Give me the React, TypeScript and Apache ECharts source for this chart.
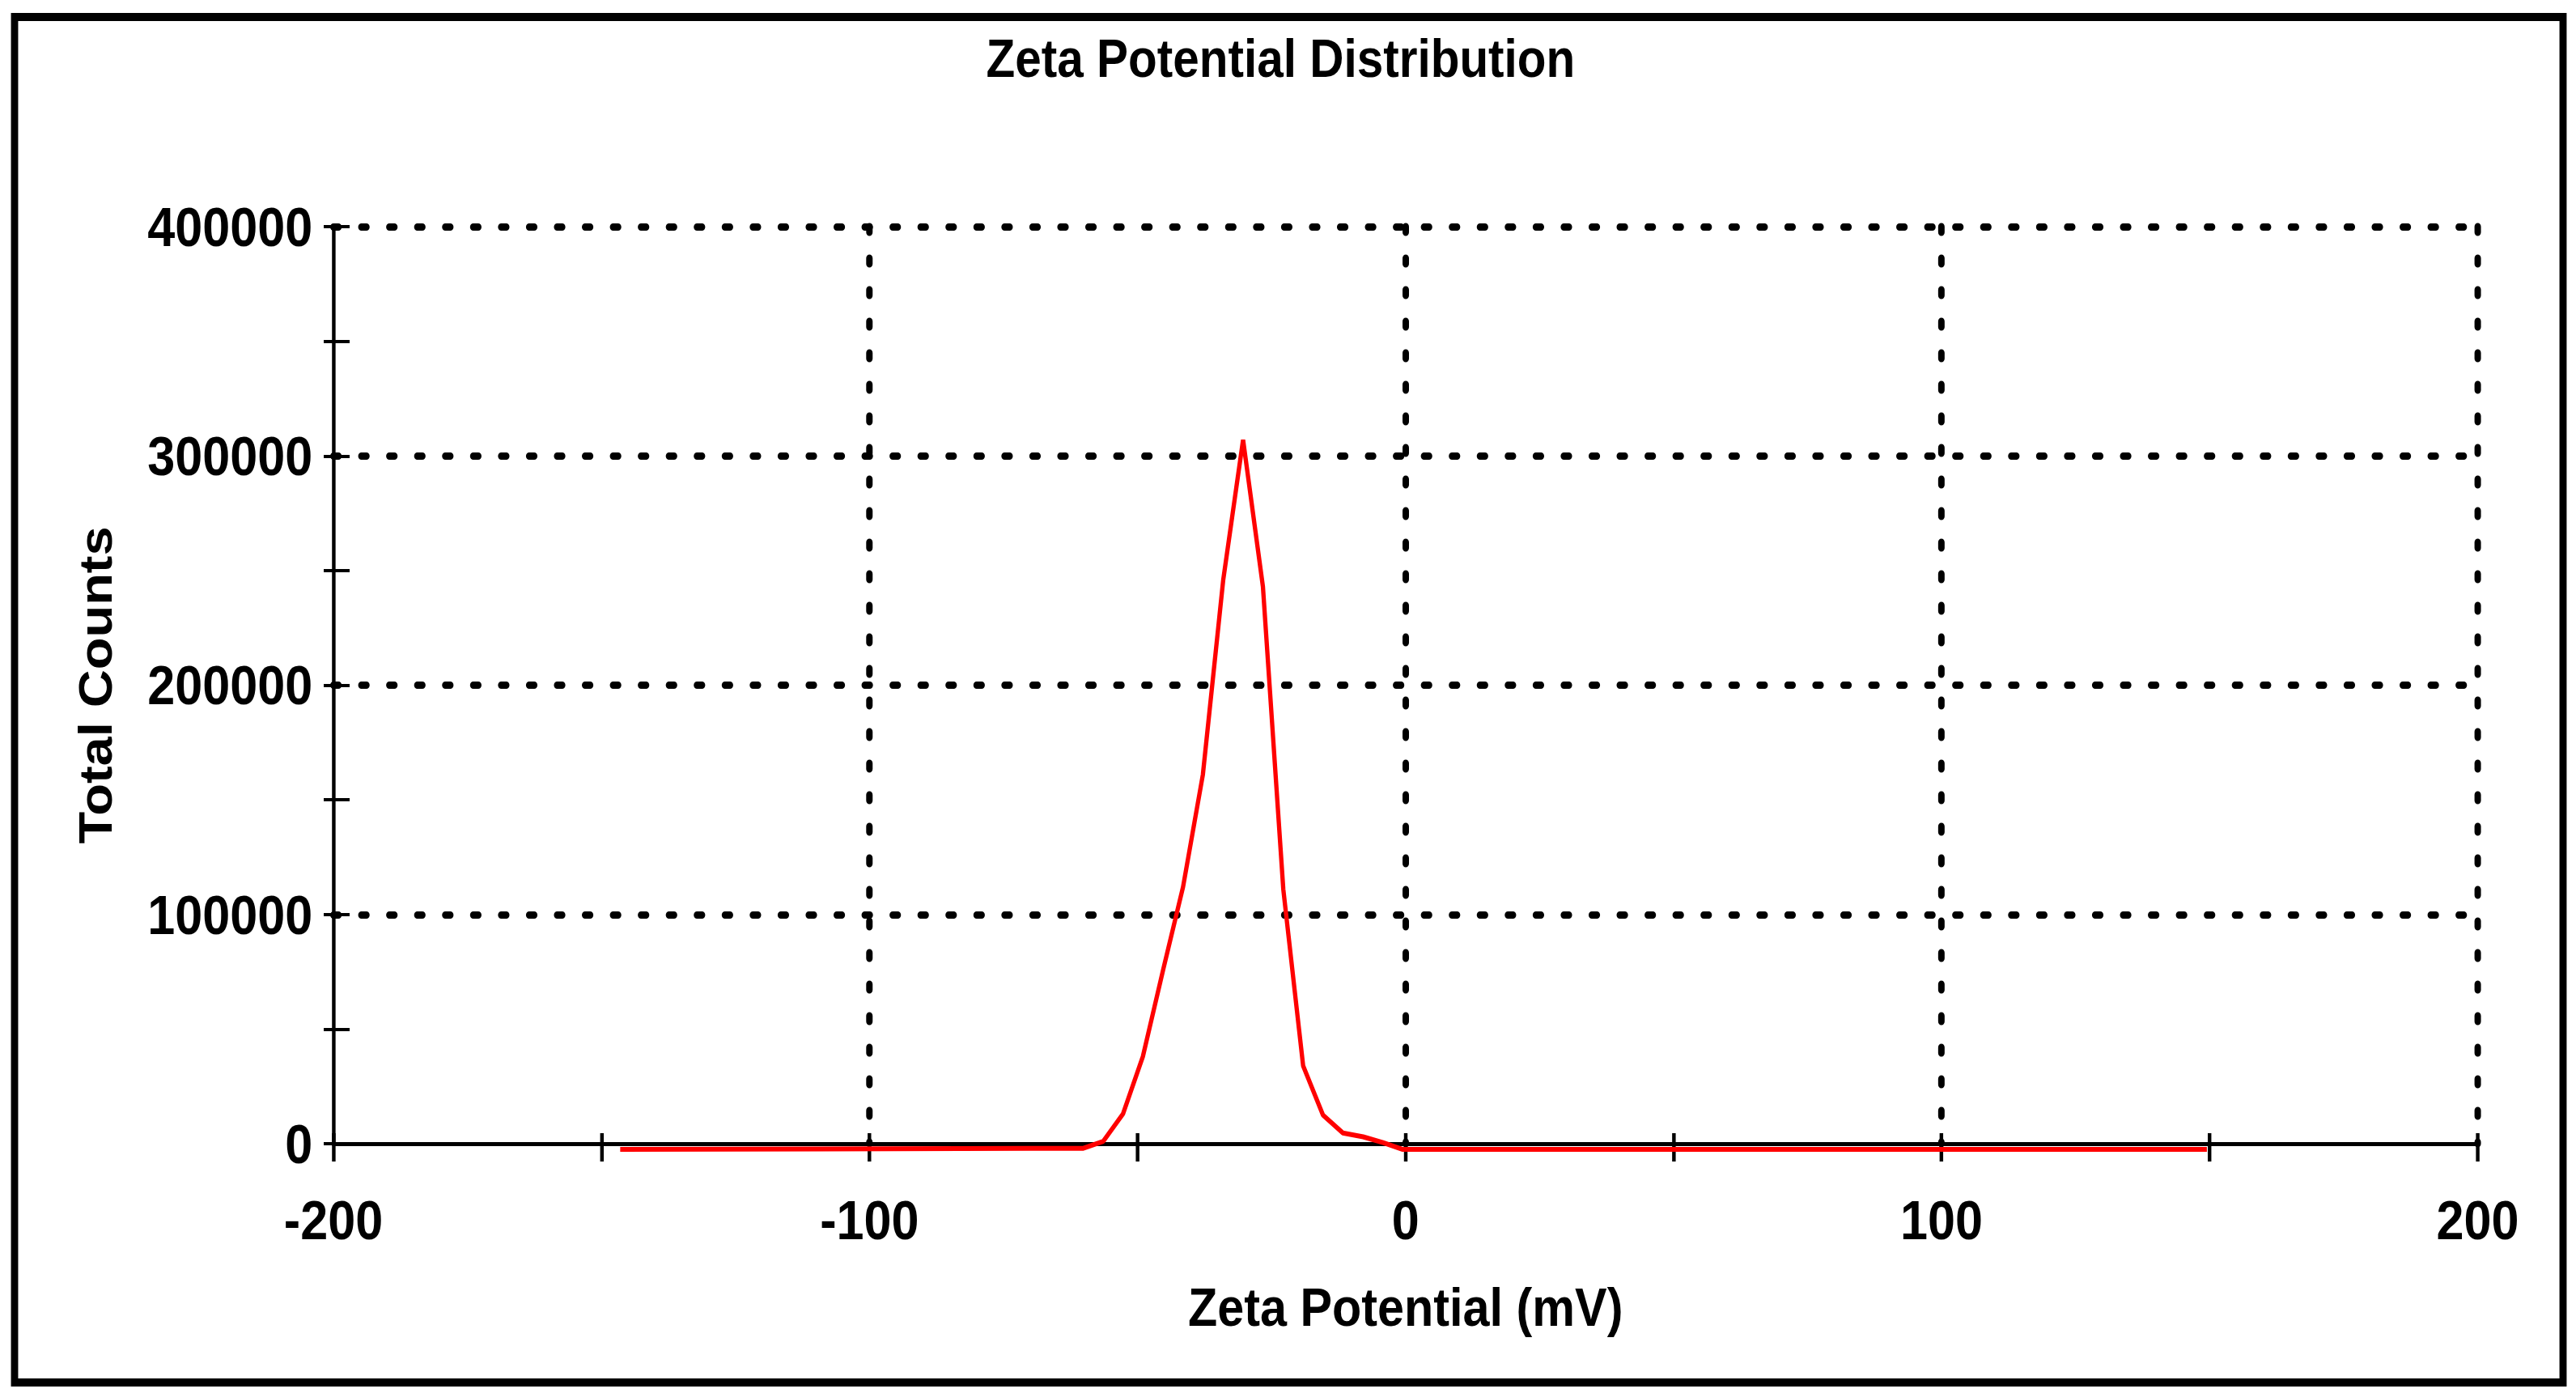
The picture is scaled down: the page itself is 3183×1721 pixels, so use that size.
import React, { useEffect, useRef } from "react";
import * as echarts from "echarts";

const TITLE = "Zeta Potential Distribution";
const X_NAME = "Zeta Potential (mV)";
const Y_NAME = "Total Counts";

// Zeta potential (mV) and total counts
const ZETA_MV = [-146.5, -60.1, -56.4, -52.7, -49.0, -45.2, -41.5, -37.8, -34.0, -30.3, -26.6, -22.8, -19.1, -15.4, -11.7, -7.9, -4.2, -0.5, 149.5];
const TOTAL_COUNTS = [-2500, -2000, 1000, 13000, 38000, 76000, 112000, 161000, 246000, 307000, 243000, 111000, 34000, 12500, 4700, 3000, 500, -2500, -2500];

const X_MIN = -200;
const X_MAX = 200;
const X_LABEL_STEP = 100;
const X_TICK_STEP = 50;
const Y_MIN = 0;
const Y_MAX = 400000;
const Y_LABEL_STEP = 100000;
const Y_TICK_STEP = 50000;

// The picture is horizontally condensed; the chart is drawn wider and squeezed.
const SQUEEZE = 0.886;
const PAGE_W = 3183;
const PAGE_H = 1721;
const CHART_W = PAGE_W / SQUEEZE;

const FONT = "'Liberation Sans', Arial, Helvetica, sans-serif";

export default function App() {
  const ref = useRef<HTMLDivElement>(null);

  useEffect(() => {
    document.body.style.margin = "0";
    document.body.style.overflow = "hidden";
    const el = ref.current!;
    const chart = echarts.init(el, null, { renderer: "svg" });
    const sx = (v: number) => v / SQUEEZE;

    const data = ZETA_MV.map((x, i) => [x, TOTAL_COUNTS[i]]);

    const dotted = (width: number) => ({
      show: true,
      showMinLine: false,
      showMaxLine: true,
      lineStyle: { color: "#000", width, type: [7, 32], cap: "round" },
    });

    const labelStyle = {
      color: "#000",
      fontFamily: FONT,
      fontWeight: "bold",
      fontSize: 69,
    };

    const option: any = {
      animation: false,
      backgroundColor: "#fff",
      title: {
        text: TITLE,
        left: sx(1578),
        textAlign: "center",
        top: 34,
        textStyle: { color: "#000", fontFamily: FONT, fontWeight: "bold", fontSize: 66 },
      },
      graphic: [
        {
          type: "rect",
          shape: { x: sx(18), y: 21, width: sx(3149), height: 1687 },
          style: { fill: "none", stroke: "#000", lineWidth: 10 },
          z: 100,
        },
      ],
      grid: { left: sx(412), right: sx(122), top: 280, bottom: 308, containLabel: false },
      xAxis: [
        {
          type: "value",
          position: "bottom",
          min: X_MIN,
          max: X_MAX,
          interval: X_LABEL_STEP,
          name: X_NAME,
          nameLocation: "middle",
          nameGap: 168,
          nameMoveOverlap: false,
          nameTextStyle: { color: "#000", fontFamily: FONT, fontWeight: "bold", fontSize: 67 },
          axisLine: { show: true, onZero: false, lineStyle: { color: "#000", width: 5 } },
          axisTick: { show: false },
          axisLabel: { ...labelStyle, margin: 60, formatter: (v: number) => String(v) },
          splitLine: dotted(9),
        },
        {
          type: "value",
          position: "bottom",
          min: X_MIN,
          max: X_MAX,
          interval: X_TICK_STEP,
          axisLine: { show: false, onZero: false },
          axisTick: { show: true, inside: false, length: 22, lineStyle: { color: "#000", width: 5 } },
          axisLabel: { show: false },
          splitLine: { show: false },
        },
        {
          type: "value",
          position: "bottom",
          min: X_MIN,
          max: X_MAX,
          interval: X_TICK_STEP,
          axisLine: { show: false, onZero: false },
          axisTick: { show: true, inside: true, length: 13, lineStyle: { color: "#000", width: 5 } },
          axisLabel: { show: false },
          splitLine: { show: false },
        },
      ],
      yAxis: [
        {
          type: "value",
          position: "left",
          min: Y_MIN,
          max: Y_MAX,
          interval: Y_LABEL_STEP,
          name: Y_NAME,
          nameLocation: "middle",
          nameGap: 300,
          nameRotate: 90,
          nameMoveOverlap: false,
          nameTextStyle: { color: "#000", fontFamily: FONT, fontWeight: "bold", fontSize: 65 },
          axisLine: { show: true, onZero: false, lineStyle: { color: "#000", width: 5 } },
          axisTick: { show: false },
          axisLabel: { ...labelStyle, margin: 29, formatter: (v: number) => String(v) },
          splitLine: dotted(9),
        },
        {
          type: "value",
          position: "left",
          min: Y_MIN,
          max: Y_MAX,
          interval: Y_TICK_STEP,
          axisLine: { show: false, onZero: false },
          axisTick: { show: true, inside: false, length: sx(12), lineStyle: { color: "#000", width: 4 } },
          axisLabel: { show: false },
          splitLine: { show: false },
        },
        {
          type: "value",
          position: "left",
          min: Y_MIN,
          max: Y_MAX,
          interval: Y_TICK_STEP,
          axisLine: { show: false, onZero: false },
          axisTick: { show: true, inside: true, length: sx(20), lineStyle: { color: "#000", width: 4 } },
          axisLabel: { show: false },
          splitLine: { show: false },
        },
      ],
      series: [
        {
          type: "line",
          data,
          xAxisIndex: 0,
          yAxisIndex: 0,
          showSymbol: false,
          symbol: "none",
          clip: false,
          z: 5,
          lineStyle: { color: "#ff0000", width: 6 },
        },
      ],
    };

    chart.setOption(option);
    return () => chart.dispose();
  }, []);

  return (
    <div style={{ width: PAGE_W, height: PAGE_H, overflow: "hidden", background: "#fff" }}>
      <div
        ref={ref}
        style={{
          width: CHART_W,
          height: PAGE_H,
          transform: `scaleX(${SQUEEZE})`,
          transformOrigin: "0 0",
        }}
      />
    </div>
  );
}
